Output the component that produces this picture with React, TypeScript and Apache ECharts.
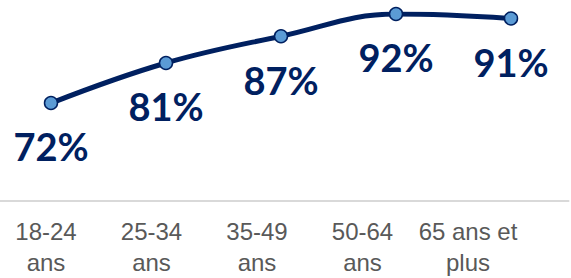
import React, { useEffect, useRef } from "react";
import * as echarts from "echarts";

const categories = ["18-24\nans", "25-34\nans", "35-49\nans", "50-64\nans", "65 ans et\nplus"];
const values = [72, 81, 87, 92, 91];

export default function App() {
  const ref = useRef<HTMLDivElement>(null);
  useEffect(() => {
    const chart = echarts.init(ref.current!, null, { renderer: "svg" });
    chart.setOption({
      animation: false,
      grid: [
        { left: 3.5, width: 575, top: 14, bottom: 77 },
        { left: 3.25, width: 527.5, top: 14, bottom: 77 },
      ],
      xAxis: [
        {
          type: "category",
          gridIndex: 0,
          data: categories,
          axisLine: { show: true, lineStyle: { color: "#d9d9d9", width: 2 } },
          axisTick: { show: false },
          axisLabel: { show: false },
        },
        {
          type: "category",
          gridIndex: 1,
          data: categories,
          axisLine: { show: false },
          axisTick: { show: false },
          axisLabel: {
            show: true,
            color: "#595959",
            fontFamily: "'Liberation Sans', Arial, sans-serif",
            fontSize: 24,
            lineHeight: 31,
            margin: 16,
            interval: 0,
          },
        },
      ],
      yAxis: [
        { type: "value", gridIndex: 0, min: 50, max: 92, show: false },
        { type: "value", gridIndex: 1, min: 50, max: 92, show: false },
      ],
      series: [
        {
          type: "line",
          xAxisIndex: 0,
          yAxisIndex: 0,
          data: values,
          smooth: 0.4,
          symbol: "circle",
          symbolSize: 13,
          lineStyle: { color: "#002060", width: 5 },
          itemStyle: { color: "#5b9bd5", borderColor: "#002060", borderWidth: 1.5 },
          label: {
            show: true,
            position: "bottom",
            distance: 17,
            formatter: "{c}%",
            color: "#002060",
            fontFamily: "Lato, sans-serif",
            fontWeight: "bold",
            fontSize: 38,
            lineHeight: 38,
          },
          z: 3,
        },
      ],
    });
    return () => chart.dispose();
  }, []);
  return (
    <div style={{ position: "absolute", left: 0, top: 0, width: 571, height: 278, overflow: "hidden", background: "#fff" }}>
      <div
        ref={ref}
        style={{ position: "absolute", left: -10, top: 0, width: 591, height: 278 }}
      />
    </div>
  );
}
